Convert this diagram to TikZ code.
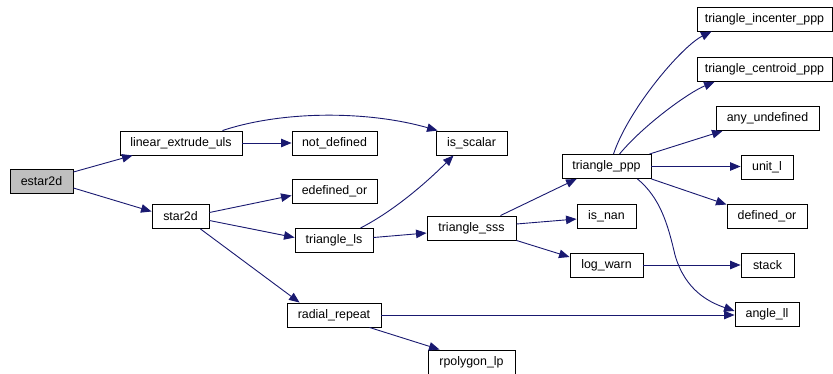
\documentclass[tikz,border=0pt]{standalone}
\usepackage{fontspec}
\setmainfont{Liberation Sans}
\usetikzlibrary{arrows.meta,calc}
\definecolor{edgeblue}{HTML}{191970}
\definecolor{rootgray}{HTML}{BFBFBF}
\begin{document}
\begin{tikzpicture}[x=1pt,y=-1pt,
  fn/.style={draw=black,line width=0.9pt,fill=white,rectangle,inner sep=0pt,
    minimum height=24pt,font=\fontsize{12.4}{14}\selectfont},
  root/.style={fn,fill=rootgray},
  edge/.style={draw=edgeblue,line width=0.9pt,-{Triangle[length=10.5pt,width=8.5pt]},color=edgeblue}]
\useasboundingbox (0,0) rectangle (833,373);

% functions
\node[root,minimum width=63pt] (es) at (41.5,181) {estar2d};
\node[fn,minimum width=122pt] (leu) at (181,143) {linear\_extrude\_uls};
\node[fn,minimum width=57pt] (st) at (180.5,216.5) {star2d};
\node[fn,minimum width=85pt] (nd) at (334.5,143) {not\_defined};
\node[fn,minimum width=71pt] (is) at (471.5,143) {is\_scalar};
\node[fn,minimum width=85pt] (ed) at (334.5,191.5) {edefined\_or};
\node[fn,minimum width=78pt] (tls) at (334,240.5) {triangle\_ls};
\node[fn,minimum width=89pt] (tsss) at (471.5,228) {triangle\_sss};
\node[fn,minimum width=89pt] (tppp) at (606.5,166.5) {triangle\_ppp};
\node[fn,minimum width=135pt] (inc) at (764.5,19) {triangle\_incenter\_ppp};
\node[fn,minimum width=135pt] (cen) at (764.5,69.5) {triangle\_centroid\_ppp};
\node[fn,minimum width=103pt] (any) at (767.5,118.5) {any\_undefined};
\node[fn,minimum width=52pt] (ul) at (767,167) {unit\_l};
\node[fn,minimum width=80pt] (do) at (767,216) {defined\_or};
\node[fn,minimum width=59pt] (nan) at (606.5,216) {is\_nan};
\node[fn,minimum width=73pt] (lw) at (606.5,265) {log\_warn};
\node[fn,minimum width=53pt] (stk) at (767.5,265) {stack};
\node[fn,minimum width=64pt] (an) at (767,314) {angle\_ll};
\node[fn,minimum width=94pt] (rr) at (334,315) {radial\_repeat};
\node[fn,minimum width=87pt] (rp) at (471.5,362) {rpolygon\_lp};

% calls
\draw[edge] ([yshift=9pt]es.east) -- ([xshift=13pt]leu.south west);
\draw[edge] ([yshift=-7pt]es.east) -- ([yshift=5pt]st.west);
\draw[edge] (leu.east) -- (nd.west);
\draw[edge] ([xshift=-20pt]leu.north east) .. controls +(60,-20) and +(-70,-20) .. ([xshift=2pt]is.north west);
\draw[edge] ([yshift=4pt]st.east) -- ([yshift=-4pt]ed.west);
\draw[edge] ([yshift=-4pt]st.east) -- ([yshift=3pt]tls.west);
\draw[edge] ([xshift=-9pt]st.south east) -- ([xshift=13pt]rr.north west);
\draw[edge] ([xshift=-13pt]tls.north east) .. controls +(35,-18) and +(-25,25) .. ([xshift=-18pt]is.south);
\draw[edge] ([yshift=3pt]tls.east) -- ([yshift=-5pt]tsss.west);
\draw[edge] ([xshift=-16pt]tsss.north east) -- ([xshift=15pt]tppp.south west);
\draw[edge] ([yshift=4pt]tsss.east) -- ([yshift=-3pt]nan.west);
\draw[edge] (tsss.south east) -- ([yshift=8pt]lw.west);
\draw[edge] ([xshift=7pt]tppp.north) .. controls +(15,-45) and +(-30,15) .. ([xshift=15pt]inc.south west);
\draw[edge] ([xshift=13pt]tppp.north) .. controls +(25,-30) and +(-25,10) .. ([xshift=18pt]cen.south west);
\draw[edge] ([xshift=-2pt]tppp.north east) -- ([xshift=7pt]any.south west);
\draw[edge] (tppp.east) -- (tppp.east -| ul.west);
\draw[edge] (tppp.south east) -- ([yshift=-1pt]do.north west);
\draw[edge] ([xshift=-14pt]tppp.south east) .. controls +(23,19) and +(-7,-30) .. (675,255)
  .. controls +(10,35) and +(-26,-9) .. ([yshift=3pt]an.west);
\draw[edge] (lw.east) -- (stk.west);
\draw[edge] (rr.east) -- (rr.east -| an.west);
\draw[edge] ([xshift=-12pt]rr.south east) -- ([xshift=12pt]rp.north west);
\end{tikzpicture}
\end{document}
